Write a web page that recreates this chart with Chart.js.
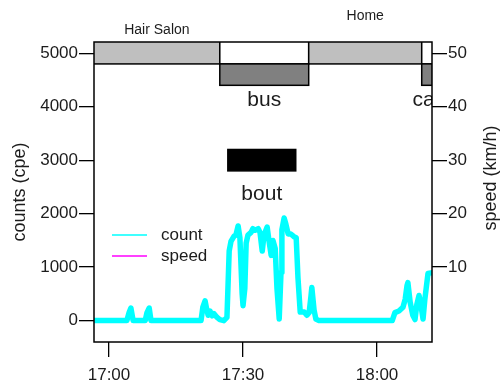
<!DOCTYPE html>
<html>
<head>
<meta charset="utf-8">
<script src="https://cdn.jsdelivr.net/npm/chart.js@4.4.1/dist/chart.umd.min.js"></script>
<style>
    html, body { margin: 0; padding: 0; background: #fff; }
    #wrap { width: 500px; height: 388px; }
</style>
</head>
<body>
<div id="wrap"><canvas id="chart" width="500" height="388"></canvas></div>
<script>
// time axis: minutes after 17:00
const countTimes = [
    -4, 4.0, 4.5, 4.9, 5.4, 8.1, 8.5, 9.0, 9.4, 20.6,
    21.0, 21.5, 21.9, 22.2, 22.6, 23.1, 23.5, 24.2, 24.8, 25.7,
    26.4, 26.9, 27.3, 28.0, 28.4, 28.9, 29.3, 29.8, 30.0, 30.4,
    30.7, 31.1, 31.8, 32.2, 32.7, 33.4, 33.8, 34.3, 34.7, 35.4,
    35.8, 36.3, 36.7, 37.2, 37.6, 38.1, 38.5, 38.7, 39.2, 39.6,
    40.1, 40.7, 41.4, 41.9, 42.3, 42.8, 43.7, 44.3, 44.8, 45.2,
    45.4, 45.9, 46.3, 47.0, 63.4, 64.0, 64.9, 65.8, 66.3, 66.7,
    66.9, 67.4, 68.0, 68.5, 68.9, 69.4, 69.8, 70.3, 70.7, 71.4,
    72.6
];
const countValues = [
    0, 0, 150, 235, 0, 0, 150, 235, 0, 0,
    250, 370, 200, 100, 180, 90, 130, 60, 20, 0,
    60, 1300, 1480, 1580, 1600, 1770, 1550, 500, 280, 600,
    1450, 1600, 1650, 1720, 1690, 1720, 1650, 1300, 1600, 1750,
    1500, 1220, 1500, 1350, 600, 30, 900, 1700, 1920, 1800,
    1620, 1620, 1570, 1550, 800, 160, 160, 100, 150, 450,
    620, 200, 30, 0, 0, 150, 180, 250, 400, 650,
    710, 350, 100, 20, 300, 470, 300, 30, 400, 880,
    900
];
// speed series has no points in this window
const speedTimes = [];
const speedValues = [];

const xTicks = [0, 30, 60];
const xTickLabels = ['17:00', '17:30', '18:00'];
const countTicks = [0, 1000, 2000, 3000, 4000, 5000];
const speedTicks = [10, 20, 30, 40, 50];

// top strip: places
const placeStart = [-10, 24.8, 44.7, 70.0];
const placeEnd = [24.8, 44.7, 70.0, 80];
const placeNames = ['Hair Salon', '', 'Home', ''];
const placeColors = ['#bfbfbf', '#ffffff', '#bfbfbf', '#ffffff'];
const placeRow = [4800, 5400];

// second strip: travel modes
const modeStart = [24.8, 70.0];
const modeEnd = [44.7, 72.4];
const modeNames = ['bus', 'car'];
const modeRow = [4400, 4800];

// activity bouts
const boutStart = [26.6];
const boutEnd = [41.8];
const boutRow = [2800, 3200];

const FONT = '"Liberation Sans", Arial, sans-serif';
const TEXT = '#1c1c1c';

const stripsPlugin = {
    id: 'strips',
    beforeDatasetsDraw: function(chart) {
        const ctx = chart.ctx;
        const a = chart.chartArea;
        const x = chart.scales.x;
        const y = chart.scales.y;

        const rect = function(x0, x1, v0, v1, fill) {
            const px0 = x.getPixelForValue(x0);
            const px1 = x.getPixelForValue(x1);
            const py0 = y.getPixelForValue(v1);
            const py1 = y.getPixelForValue(v0);
            ctx.fillStyle = fill;
            ctx.fillRect(px0, py0, px1 - px0, py1 - py0);
            ctx.strokeRect(px0, py0, px1 - px0, py1 - py0);
            return { mid: (px0 + px1) / 2, bottom: py1 };
        };

        ctx.save();
        ctx.beginPath();
        ctx.rect(a.left, a.top, a.right - a.left, a.bottom - a.top);
        ctx.clip();
        ctx.lineWidth = 1.5;
        ctx.strokeStyle = '#000';
        ctx.textAlign = 'center';
        ctx.textBaseline = 'alphabetic';

        placeStart.forEach((s, i) => rect(s, placeEnd[i], placeRow[0], placeRow[1], placeColors[i]));

        modeStart.forEach((s, i) => {
            const r = rect(s, modeEnd[i], modeRow[0], modeRow[1], '#808080');
            ctx.fillStyle = TEXT;
            ctx.font = '21px ' + FONT;
            ctx.fillText(modeNames[i], r.mid, r.bottom + 21);
        });

        boutStart.forEach((s, i) => {
            const r = rect(s, boutEnd[i], boutRow[0], boutRow[1], '#000000');
            ctx.fillStyle = TEXT;
            ctx.font = '21px ' + FONT;
            ctx.fillText('bout', r.mid, r.bottom + 29);
        });
        ctx.restore();

        // place names sit above the plot, staggered
        ctx.save();
        ctx.fillStyle = TEXT;
        ctx.font = '14px ' + FONT;
        ctx.textAlign = 'center';
        ctx.textBaseline = 'middle';
        let n = 0;
        placeNames.forEach((name, i) => {
            if (!name) return;
            const cx = (Math.max(x.getPixelForValue(placeStart[i]), a.left) + Math.min(x.getPixelForValue(placeEnd[i]), a.right)) / 2;
            ctx.fillText(name, cx, n % 2 === 0 ? a.top - 12 : a.top - 26);
            n++;
        });
        ctx.restore();
    },
    afterDraw: function(chart) {
        const ctx = chart.ctx;
        const a = chart.chartArea;
        ctx.save();
        ctx.strokeStyle = '#000';
        ctx.lineWidth = 1.5;
        ctx.strokeRect(a.left, a.top, a.right - a.left, a.bottom - a.top);

        // legend
        const items = [['count', '#00ffff'], ['speed', '#ff00ff']];
        ctx.font = '17px ' + FONT;
        ctx.textBaseline = 'middle';
        ctx.textAlign = 'left';
        items.forEach((it, i) => {
            const ly = 235 + i * 21;
            ctx.strokeStyle = it[1];
            ctx.lineWidth = 1.5;
            ctx.beginPath();
            ctx.moveTo(112, ly);
            ctx.lineTo(147, ly);
            ctx.stroke();
            ctx.fillStyle = TEXT;
            ctx.fillText(it[0], 161, ly);
        });

        // right axis title reads bottom-to-top
        ctx.translate(491, 178);
        ctx.rotate(-Math.PI / 2);
        ctx.textAlign = 'center';
        ctx.font = '18px ' + FONT;
        ctx.fillText('speed (km/h)', 0, 0);
        ctx.restore();
    }
};

const tickGrid = { drawOnChartArea: false, drawTicks: true, tickLength: 15, color: '#000', lineWidth: 1.3 };
const plainNumber = function(value) { return String(value); };

new Chart(document.getElementById('chart').getContext('2d'), {
    type: 'line',
    data: {
        datasets: [{
            label: 'count',
            data: countTimes.map((t, i) => ({ x: t, y: countValues[i] })),
            borderColor: '#00ffff',
            borderWidth: 5.5,
            pointRadius: 0,
            tension: 0,
            borderJoinStyle: 'round',
            borderCapStyle: 'round',
            yAxisID: 'y'
        }, {
            label: 'speed',
            data: speedTimes.map((t, i) => ({ x: t, y: speedValues[i] })),
            borderColor: '#ff00ff',
            borderWidth: 1.5,
            pointRadius: 0,
            yAxisID: 'y1'
        }]
    },
    options: {
        responsive: false,
        animation: false,
        layout: { padding: { top: 42, left: 0, right: 0, bottom: 0 } },
        plugins: { legend: { display: false }, tooltip: { enabled: false } },
        scales: {
            x: {
                type: 'linear',
                min: -3.36,
                max: 72.3,
                afterBuildTicks: function(scale) { scale.ticks = xTicks.map(v => ({ value: v })); },
                afterFit: function(scale) { scale.height = 46; },
                grid: tickGrid,
                border: { display: false },
                ticks: {
                    padding: 8,
                    maxRotation: 0,
                    autoSkip: false,
                    color: TEXT,
                    font: { family: FONT, size: 17 },
                    callback: function(value) { return xTickLabels[xTicks.indexOf(value)]; }
                }
            },
            y: {
                position: 'left',
                min: -400,
                max: 5210,
                afterBuildTicks: function(scale) { scale.ticks = countTicks.map(v => ({ value: v })); },
                afterFit: function(scale) { scale.width = 94; },
                grid: tickGrid,
                border: { display: false },
                ticks: { padding: 1, color: TEXT, font: { family: FONT, size: 17 }, callback: plainNumber },
                title: {
                    display: true,
                    text: 'counts (cpe)',
                    color: TEXT,
                    font: { family: FONT, size: 18 },
                    padding: { top: 9, bottom: 0 }
                }
            },
            y1: {
                position: 'right',
                min: -4.0,
                max: 52.1,
                afterBuildTicks: function(scale) { scale.ticks = speedTicks.map(v => ({ value: v })); },
                afterFit: function(scale) { scale.width = 68; },
                grid: tickGrid,
                border: { display: false },
                ticks: { padding: 1, color: TEXT, font: { family: FONT, size: 17 }, callback: plainNumber }
            }
        }
    },
    plugins: [stripsPlugin]
});
</script>
</body>
</html>
